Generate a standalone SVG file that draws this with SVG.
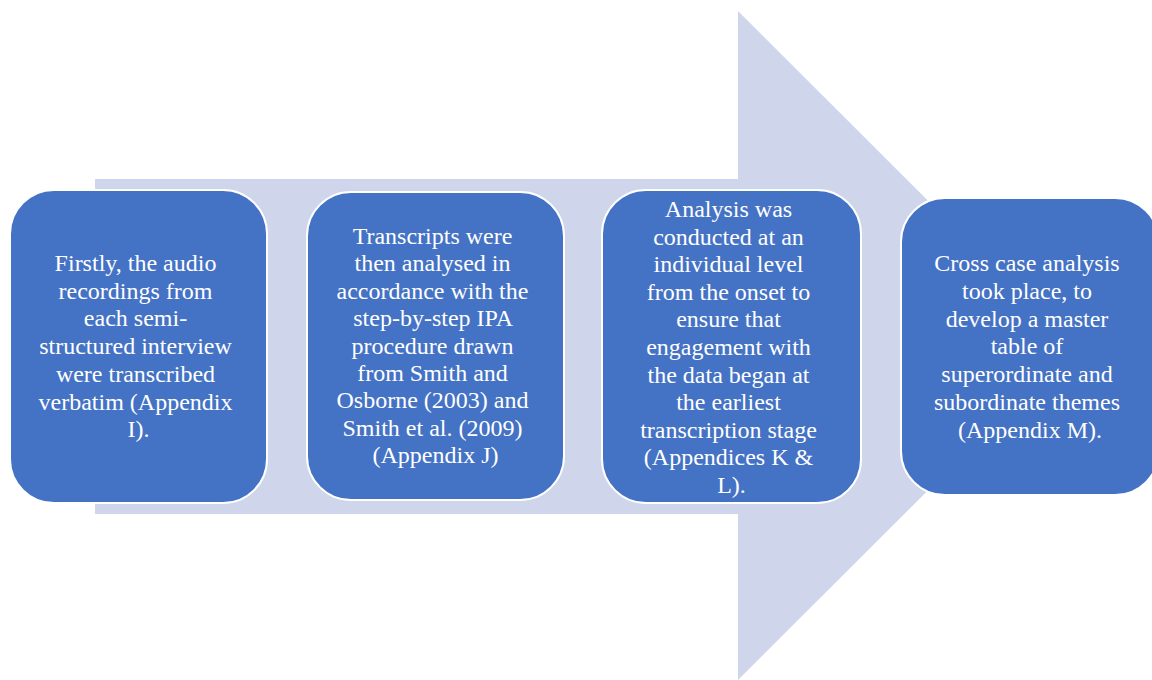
<svg xmlns="http://www.w3.org/2000/svg" width="1152" height="680" viewBox="0 0 1152 680">
  <style>
    .step { fill: #4472C4; stroke: #FFFFFF; stroke-width: 2; }
    .label { fill: #FFFFFF; font-size: 24px; text-anchor: middle; }
  </style>
  <rect width="1152" height="680" fill="#FFFFFF"/>
  <!-- background process arrow -->
  <g id="arrow">
    <polygon points="95,179 738,179 738,11 1073,345.5 738,680 738,514 95,514" fill="#CFD5EA"/>
  </g>
  <g id="connectors"></g>
  <g font-family="Liberation Serif, Times New Roman, serif">
  <g id="step1">
    <rect class="step" x="10" y="190" width="257" height="313" rx="44" ry="44"/>
    <text class="label" x="138.5" y="271">
      <tspan x="138.5">Firstly, the audio</tspan>
      <tspan x="138.5" dy="27.7">recordings from</tspan>
      <tspan x="138.5" dy="27.7">each semi-</tspan>
      <tspan x="138.5" dy="27.7">structured interview</tspan>
      <tspan x="138.5" dy="27.7">were transcribed</tspan>
      <tspan x="138.5" dy="27.7">verbatim (Appendix</tspan>
      <tspan x="138.5" dy="27.7">I).</tspan>
    </text>
  </g>
  <g id="step2">
    <rect class="step" x="307" y="192" width="257" height="308" rx="44" ry="44"/>
    <text class="label" x="435.5" y="244">
      <tspan x="435.5">Transcripts were</tspan>
      <tspan x="435.5" dy="27.4">then analysed in</tspan>
      <tspan x="435.5" dy="27.4">accordance with the</tspan>
      <tspan x="435.5" dy="27.4">step-by-step IPA</tspan>
      <tspan x="435.5" dy="27.4">procedure drawn</tspan>
      <tspan x="435.5" dy="27.4">from Smith and</tspan>
      <tspan x="435.5" dy="27.4">Osborne (2003) and</tspan>
      <tspan x="435.5" dy="27.4">Smith et al. (2009)</tspan>
      <tspan x="435.5" dy="27.4">(Appendix J)</tspan>
    </text>
  </g>
  <g id="step3">
    <rect class="step" x="602" y="190" width="259" height="313" rx="44" ry="44"/>
    <text class="label" x="731.5" y="217">
      <tspan x="731.5">Analysis was</tspan>
      <tspan x="731.5" dy="27.6">conducted at an</tspan>
      <tspan x="731.5" dy="27.6">individual level</tspan>
      <tspan x="731.5" dy="27.6">from the onset to</tspan>
      <tspan x="731.5" dy="27.6">ensure that</tspan>
      <tspan x="731.5" dy="27.6">engagement with</tspan>
      <tspan x="731.5" dy="27.6">the data began at</tspan>
      <tspan x="731.5" dy="27.6">the earliest</tspan>
      <tspan x="731.5" dy="27.6">transcription stage</tspan>
      <tspan x="731.5" dy="27.6">(Appendices K &amp;</tspan>
      <tspan x="731.5" dy="27.6">L).</tspan>
    </text>
  </g>
  <g id="step4">
    <rect class="step" x="901" y="198" width="258" height="297" rx="44" ry="44"/>
    <text class="label" x="1030" y="271">
      <tspan x="1030">Cross case analysis</tspan>
      <tspan x="1030" dy="27.8">took place, to</tspan>
      <tspan x="1030" dy="27.8">develop a master</tspan>
      <tspan x="1030" dy="27.8">table of</tspan>
      <tspan x="1030" dy="27.8">superordinate and</tspan>
      <tspan x="1030" dy="27.8">subordinate themes</tspan>
      <tspan x="1030" dy="27.8">(Appendix M).</tspan>
    </text>
  </g>
  </g>
</svg>
